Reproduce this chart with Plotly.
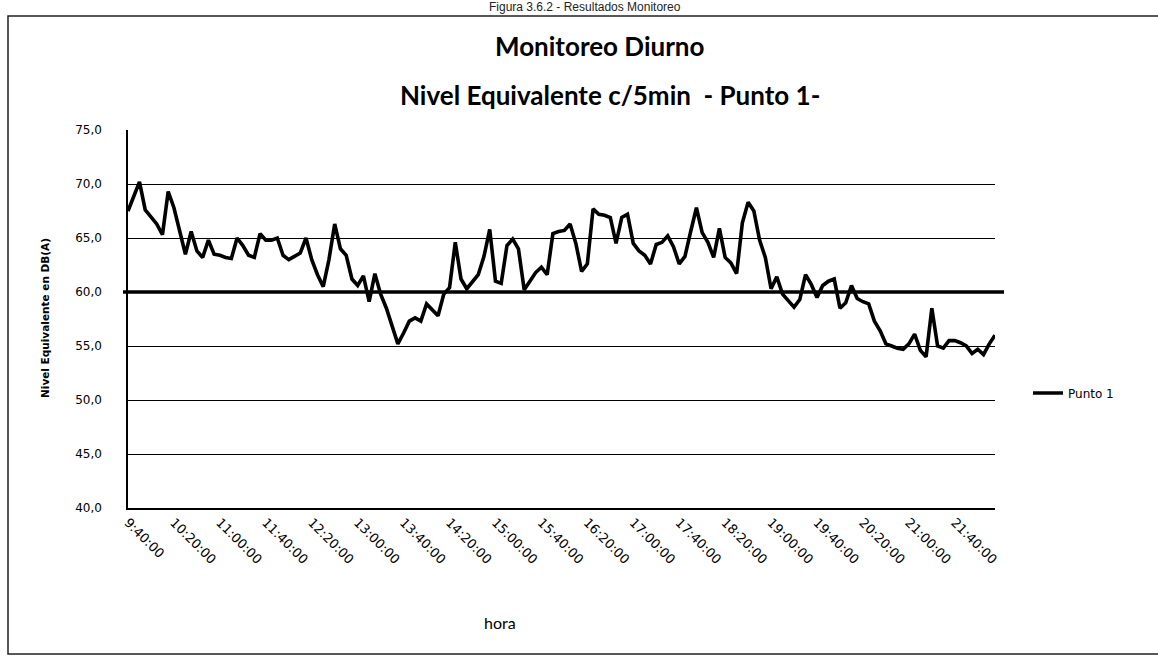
import plotly.graph_objects as go

# Series values (dB(A)), one reading every 5 minutes from 9:40:00
punto1 = [
    67.5, 68.8, 70.2, 67.6, 67.0, 66.3, 65.3, 69.3, 67.8, 65.6,
    63.5, 65.6, 63.8, 63.2, 64.8, 63.5, 63.4, 63.2, 63.1, 65.0,
    64.3, 63.4, 63.2, 65.4, 64.8, 64.8, 65.0, 63.4, 63.0, 63.3,
    63.6, 65.0, 63.0, 61.6, 60.5, 63.0, 66.3, 64.0, 63.4, 61.2,
    60.6, 61.5, 59.1, 61.7, 59.8, 58.5, 56.8, 55.2, 56.2, 57.3,
    57.6, 57.3, 58.9, 58.4, 57.8, 59.8, 60.4, 64.6, 61.2, 60.3,
    61.0, 61.6, 63.3, 65.8, 61.0, 60.8, 64.3, 64.9, 64.0, 60.2,
    61.0, 61.8, 62.3, 61.6, 65.4, 65.6, 65.7, 66.3, 64.5, 61.9,
    62.6, 67.7, 67.2, 67.1, 66.9, 64.5, 66.9, 67.2, 64.5, 63.8,
    63.4, 62.6, 64.4, 64.6, 65.2, 64.2, 62.6, 63.3, 65.6, 67.8,
    65.5, 64.6, 63.2, 65.9, 63.2, 62.7, 61.7, 66.4, 68.3, 67.5,
    64.8, 63.2, 60.3, 61.4, 59.8, 59.2, 58.6, 59.3, 61.6, 60.7,
    59.5, 60.6, 61.0, 61.2, 58.5, 59.0, 60.6, 59.4, 59.1, 58.9,
    57.3, 56.4, 55.2, 55.0, 54.8, 54.7, 55.2, 56.1, 54.6, 54.0,
    58.5, 55.0, 54.8, 55.5, 55.5, 55.3, 55.0, 54.3, 54.7, 54.2,
    55.2, 56.0,
]

# Categories: clock times at 5-minute steps
start_minutes = 9 * 60 + 40
horas = []
for k in range(len(punto1)):
    m = start_minutes + 5 * k
    horas.append(f"{m // 60}:{m % 60:02d}:00")

tick_labels = [
    "9:40:00", "10:20:00", "11:00:00", "11:40:00", "12:20:00", "13:00:00",
    "13:40:00", "14:20:00", "15:00:00", "15:40:00", "16:20:00", "17:00:00",
    "17:40:00", "18:20:00", "19:00:00", "19:40:00", "20:20:00", "21:00:00",
    "21:40:00",
]
y_ticks = [40, 45, 50, 55, 60, 65, 70, 75]
limite = 60

W, H = 1158, 658
L, R, T, B = 128, 163, 130, 150
pw, ph = W - L - R, H - T - B

def px(x):
    return (x - L) / pw

def py(y):
    return (H - B - y) / ph

fig = go.Figure()
fig.add_trace(go.Scatter(
    x=horas, y=punto1, mode="lines", name="Punto 1",
    line=dict(color="black", width=3.6),
))

shapes = [
    # reference line at 60 dB
    dict(type="line", xref="paper", yref="y", x0=px(123), x1=px(1004),
         y0=limite, y1=limite, line=dict(color="black", width=3.4)),
    # outer chart border
    dict(type="rect", xref="paper", yref="paper", x0=px(8), x1=px(1175),
         y0=py(654), y1=py(16), line=dict(color="#222", width=1.5),
         fillcolor="rgba(0,0,0,0)", layer="below"),
]

fig.update_layout(
    width=W, height=H,
    margin=dict(l=L, r=R, t=T, b=B),
    paper_bgcolor="white", plot_bgcolor="white",
    separators=",.",
    font=dict(family="DejaVu Sans", color="black"),
    shapes=shapes,
    showlegend=True,
    legend=dict(x=px(1028), y=py(393), xanchor="left", yanchor="middle",
                font=dict(size=12, family="DejaVu Sans"), bgcolor="rgba(0,0,0,0)"),
    annotations=[
        dict(text="Figura 3.6.2 - Resultados Monitoreo", xref="paper", yref="paper",
             x=px(585), y=py(7), showarrow=False, yanchor="middle",
             font=dict(size=12, family="Liberation Sans", color="#222")),
        dict(text="<b>Monitoreo Diurno</b>", xref="paper", yref="paper",
             x=px(600), y=py(46), showarrow=False, yanchor="middle",
             font=dict(size=26, family="Lato")),
        dict(text="<b>Nivel Equivalente c/5min  - Punto 1-</b>", xref="paper", yref="paper",
             x=px(610), y=py(95), showarrow=False, yanchor="middle",
             font=dict(size=26, family="Lato")),
        dict(text="<b>Nivel Equivalente en DB(A)</b>", xref="paper", yref="paper",
             x=px(45), y=py(318), showarrow=False, textangle=-90,
             xanchor="center", yanchor="middle",
             font=dict(size=10.5, family="DejaVu Sans")),
        dict(text="hora", xref="paper", yref="paper",
             x=px(500), y=py(622), showarrow=False,
             xanchor="center", yanchor="middle",
             font=dict(size=16, family="Lato")),
    ],
    xaxis=dict(
        type="category", range=[0, len(punto1) - 1],
        tickmode="array", tickvals=tick_labels, ticktext=tick_labels,
        tickangle=45, tickfont=dict(size=13, family="DejaVu Sans"),
        showgrid=False, showline=True, linecolor="black", linewidth=1.5,
        ticks="", zeroline=False, automargin=False,
    ),
    yaxis=dict(
        range=[40, 75], tickvals=y_ticks, tickformat=".1f",
        tickfont=dict(size=12, family="DejaVu Sans"),
        ticklabelstandoff=22,
        showgrid=True, gridcolor="black", gridwidth=1.3,
        showline=True, linecolor="black", linewidth=1.5, ticks="",
        zeroline=False, automargin=False,
    ),
)

fig.write_html("out.html", config={"displayModeBar": False},
               post_script="document.body.style.margin='0';document.body.style.padding='0';")
